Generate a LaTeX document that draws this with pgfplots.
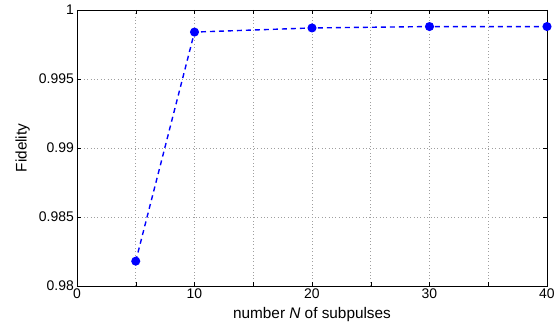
\documentclass[border=0pt]{standalone}
\usepackage{fontspec}
\setmainfont{Liberation Sans}
\usepackage{pgfplots}
\pgfplotsset{compat=1.18}
\begin{document}
\begin{tikzpicture}
\begin{axis}[
  scale only axis,
  width=470bp, height=276bp,
  xmin=0, xmax=40, ymin=0.98, ymax=1,
  xtick={0,5,...,40},
  xticklabels={0,,10,,20,,30,,40},
  ytick={0.98,0.985,0.99,0.995,1},
  yticklabels={0.98,0.985,0.99,0.995,1},
  tick align=inside,
  tick pos=both,
  major tick length=4bp,
  grid=major,
  grid style={dash pattern=on 0.8bp off 2.6bp, gray!75, line width=0.6pt},
  axis line style={line width=0.8pt},
  tick style={black, line width=0.5pt},
  tick label style={font=\fontsize{14}{16}\selectfont},
  xticklabel style={inner sep=2.5bp},
  yticklabel style={inner sep=3bp},
  /pgf/number format/assume math mode=true,
  xlabel={number \textit{N} of subpulses},
  ylabel={Fidelity},
  xlabel style={font=\fontsize{15.4}{17}\selectfont, inner sep=0pt,
    at={([yshift=-32bp]axis description cs:0.5,0)}, anchor=base},
  ylabel style={font=\fontsize{15.4}{17}\selectfont, inner sep=0pt,
    at={([xshift=-47bp]axis description cs:0,0.5)}, anchor=south},
  clip=false,
]
\addplot[blue, dash pattern=on 5bp off 4bp, line width=1.4pt,
  mark=*, mark size=3.8bp, mark options={solid}]
  coordinates {(5,0.9818) (10,0.9984) (20,0.9987) (30,0.9988) (40,0.9988)};
\path (rel axis cs:0,0) ++(-77bp,-43bp) coordinate (bl);
\path (rel axis cs:1,1) ++(8bp,10bp) coordinate (tr);
\end{axis}
\pgfresetboundingbox
\path[use as bounding box] (bl) rectangle (tr);
\end{tikzpicture}
\end{document}
